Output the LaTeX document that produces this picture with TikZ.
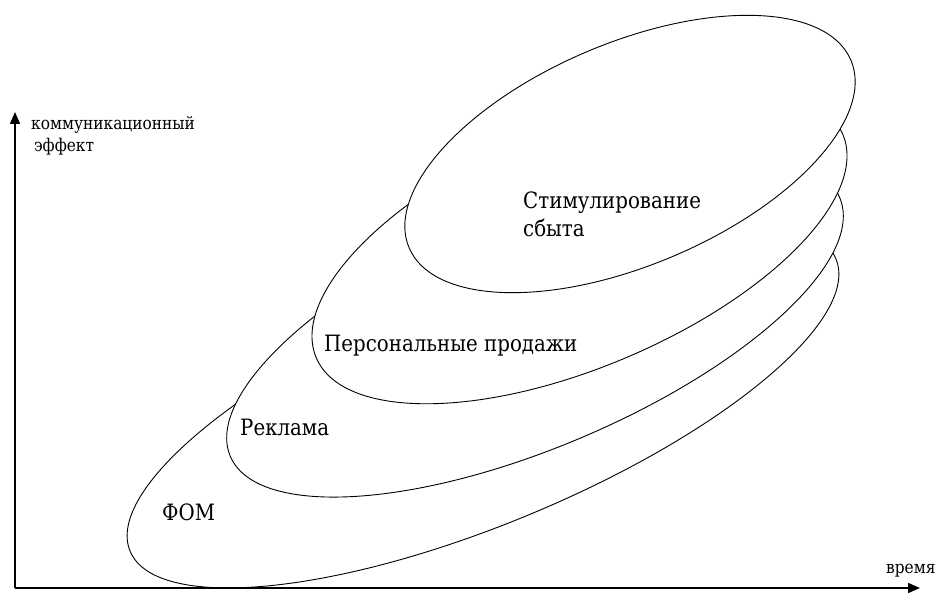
\documentclass[tikz,border=0pt]{standalone}
\usepackage{fontspec}
\setmainfont{DejaVu Serif}[FakeStretch=0.88]
\usetikzlibrary{arrows.meta}

\tikzset{
  axis/.style={line width=1.6pt, -{Triangle[length=12pt,width=10pt]}},
  tool/.style={draw=black, line width=0.9pt, fill=white},
  lbl/.style={anchor=base west, inner sep=0pt, font=\fontsize{22.5}{28}\selectfont},
  axlbl/.style={anchor=base west, inner sep=0pt, align=left, font=\fontsize{17.5}{22}\selectfont}
}

\begin{document}
\begin{tikzpicture}[x=1pt, y=1pt]
\useasboundingbox (0,0) rectangle (939,595);

% ellipses, from the lowest up
\draw[tool, rotate around={22.5:(483,190)}] (483,190) ellipse (382pt and 119pt);
\draw[tool, rotate around={23:(535,268)}] (535,268) ellipse (331pt and 120pt);
\draw[tool, rotate around={23:(579.5,349)}] (579.5,349) ellipse (286pt and 121pt);
\draw[tool, rotate around={23:(630,441)}] (630,441) ellipse (240pt and 111pt);

\node[lbl] (fom) at (162,75) {ФОМ};
\node[lbl] (ad) at (240,160) {Реклама};
\node[lbl] (sales) at (324,244) {Персональные продажи};
\node[lbl, align=left] (promo) at (523,358) {Стимулирование\\сбыта};

% axes
\coordinate (O) at (15,7);
\coordinate (ytop) at (15,483);
\coordinate (xend) at (920,7);
\draw[axis] (O) -- (ytop);
\draw[axis] (O) -- (xend);
\node[axlbl] (ylbl) at (31,443) {коммуникационный\\\,эффект};
\node[axlbl] (xlbl) at (886,22) {время};
\end{tikzpicture}
\end{document}
